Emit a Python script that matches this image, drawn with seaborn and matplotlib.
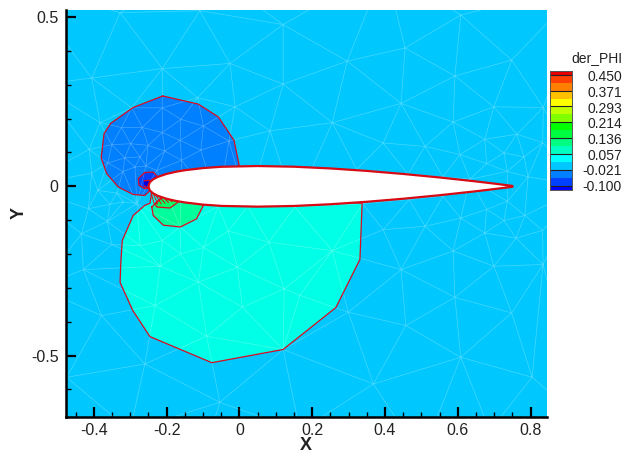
import numpy as np
import matplotlib
matplotlib.use("Agg")
import matplotlib.pyplot as plt
import matplotlib.tri as mtri
from matplotlib.ticker import MultipleLocator
import seaborn as sns

# airfoil section (chord fractions and half thickness)
chord = [0, .0025, .005, .0125, .025, .05, .075, .1, .15, .2, .3, .4, .5, .6, .7, .8, .9, .95, 1]
half_thick = [0, .0095, .0135, .0205, .0278, .0368, .043, .0476, .054, .0578, .06, .058, .0529,
              .0456, .0366, .0262, .0145, .0081, .0013]

# contour regions
blue_x = [-.211, -.292, -.354, -.372, -.380, -.365, -.333, -.292, -.260, -.246, .001, -.015, -.058, -.113, -.211]
blue_y = [.267, .233, .186, .156, .084, .038, -.002, -.024, -.027, -.012, .053, .136, .205, .243, .267]
dark_x = [-.260, -.237, -.223, -.232, -.260, -.276, -.278, -.260]
dark_y = [.041, .042, .026, -.002, -.007, .003, .023, .041]
navy_x = [-.262, -.248, -.240, -.250, -.262]
navy_y = [.016, .018, .004, -.006, .002]
cyan_x = [-.240, -.246, -.260, -.292, -.322, -.326, -.328, -.293, -.246, -.076, .120, .265, .331, .337, 0, -.17, -.240]
cyan_y = [-.012, -.050, -.056, -.086, -.160, -.225, -.284, -.367, -.444, -.521, -.482, -.358, -.216, -.050, -.027, -.02, -.012]
green_x = [-.241, -.237, -.209, -.162, -.118, -.099, -.2, -.241]
green_y = [-.061, -.086, -.115, -.120, -.096, -.056, -.02, -.061]
lime_x = [-.232, -.227, -.191, -.168, -.2, -.232]
lime_y = [-.051, -.061, -.064, -.046, -.02, -.051]

# contour lines bunched under the leading edge
fan_x0 = [-.245, -.24, -.235, -.23, -.222, -.215, -.205]
fan_y0 = [-.01, -.013, -.016, -.018, -.02, -.022, -.025]
fan_x1 = [-.235, -.225, -.215, -.205, -.195, -.185, -.172]
fan_y1 = [-.05, -.052, -.052, -.05, -.048, -.046, -.044]

# mesh nodes
mesh_x = [-.328, -.109, .120, -.212, -.026, -.406, .120, -.115, -.012, .084, -.383, -.413, -.406,
          -.296, -.212, -.161, -.099, -.324, -.267, -.212, -.163, -.351, -.299, -.251, -.205, -.106, -.029,
          -.362, -.315, -.273, -.257, -.159, -.320, -.287, -.227,
          .608, .455, .296, .748, .592, .444, .699, .835, .255, .587, .395, .510, .674, .762, .833, .606,
          .727, .782, .679, .736, .793, .322, .463, .559, .633,
          .255, .395, .510, .608, .674, .760, .727, .679, .736, .784, .833, .587, .444, .699, .834, .592,
          .299, .748, .457, .608, .368, .804, .338, .466, .559,
          .166, .688, -.301,
          -.415, -.363, -.434, -.351, -.429, -.379, -.260, -.054, -.475,
          -.273, -.212, -.162, -.099, -.031, .081, -.218, -.113, -.006, .123, -.232, .008, -.090, .120,
          -.163, -.059, .023, .152, .166,
          -.389, -.337, -.319, -.356, -.282,
          -.6, -.1, .4, .95, .95, .95, .5, -.1, -.6, -.6, -.55, -.55]
mesh_y = [.513, .519, .478, .348, .363, .320, .302, .262, .235, .164, .188, .109, .039,
          .232, .232, .198, .178, .174, .174, .159, .136, .123, .126, .121, .104, .107, .134,
          .069, .084, .087, .060, .077, .044, .057, .047,
          .506, .409, .370, .373, .326, .245, .235, .233, .188, .190, .128, .118, .139, .154, .129, .094,
          .099, .087, .067, .044, .028, .050, .036, .028, .021,
          -.190, -.128, -.118, -.094, -.138, -.153, -.101, -.068, -.044, -.086, -.130, -.191, -.246, -.236,
          -.231, -.328, -.372, -.374, -.411, -.505, -.584, -.564, -.051, -.039, -.029,
          -.722, -.722, -.722,
          -.066, -.104, -.140, -.172, -.246, -.382, -.525, -.638, -.564,
          -.175, -.160, -.199, -.181, -.132, -.165, -.236, -.283, -.239, -.303, -.352, -.357, -.443, -.482,
          -.120, -.059, -.059, -.061, -.322,
          -.012, -.020, -.046, -.053, -.051,
          .6, .65, .65, .6, 0, -.7, -.8, -.8, -.8, 0, .3, -.3]

# legend bands, bottom to top
legend_colors = ["#0000ff", "#0040ff", "#0080ff", "#00c8ff", "#00ffff", "#00ffc0", "#00ff80", "#00ff40",
                 "#00ff00", "#80ff00", "#c0ff00", "#ffff00", "#ffc000", "#ff8000", "#ff4000", "#e80000"]
legend_labels = ["-0.100", "-0.021", "0.057", "0.136", "0.214", "0.293", "0.371", "0.450"]

sns.set_style("ticks")
plt.rcParams["font.family"] = ["Liberation Sans", "DejaVu Sans"]
plt.rcParams["axes.unicode_minus"] = False

fig = plt.figure(figsize=(6.29, 4.61), dpi=100)
ax = fig.add_axes([65.5 / 629, 1 - 416.5 / 461, 481.5 / 629, 406.5 / 461])
ax.set_facecolor("#00c8ff")

ax.fill(cyan_x, cyan_y, color="#00ffe6", lw=0, zorder=1)
ax.fill(green_x, green_y, color="#00ff9c", lw=0, zorder=1)
ax.fill(lime_x, lime_y, color="#00ff60", lw=0, zorder=1)
ax.fill(blue_x, blue_y, color="#0080ff", lw=0, zorder=1)
ax.fill(dark_x, dark_y, color="#0040ff", lw=0, zorder=1)
ax.fill(navy_x, navy_y, color="#0000e0", lw=0, zorder=1)

tri = mtri.Triangulation(mesh_x, mesh_y)
ax.triplot(tri, color="white", lw=0.5, alpha=0.28, zorder=2)

red = "#dc0a20"
for xs, ys in [(blue_x, blue_y), (dark_x, dark_y), (navy_x, navy_y), (cyan_x, cyan_y),
               (green_x, green_y), (lime_x, lime_y)]:
    sns.lineplot(x=xs, y=ys, sort=False, estimator=None, color=red, lw=0.9, ax=ax, zorder=3)
for i in range(len(fan_x0)):
    sns.lineplot(x=[fan_x0[i], fan_x1[i]], y=[fan_y0[i], fan_y1[i]], sort=False, estimator=None,
                 color=red, lw=0.7, ax=ax, zorder=3)

# section runs from -0.25 to 0.75
foil_x = np.array(chord) - 0.25
foil_y = np.array(half_thick)
outline_x = np.r_[foil_x[::-1], foil_x[1:]]
outline_y = np.r_[foil_y[::-1], -foil_y[1:]]
ax.fill(outline_x, outline_y, color="white", lw=0, zorder=4)
sns.lineplot(x=outline_x, y=outline_y, sort=False, estimator=None, color="#d80a14", lw=1.6, ax=ax, zorder=5)

ax.set_xlim(-0.478, 0.845)
ax.set_ylim(-0.680, 0.521)
ax.set_xticks([-0.4, -0.2, 0, 0.2, 0.4, 0.6, 0.8])
ax.set_xticklabels(["-0.4", "-0.2", "0", "0.2", "0.4", "0.6", "0.8"])
ax.set_yticks([-0.5, 0, 0.5])
ax.set_yticklabels(["-0.5", "0", "0.5"])
ax.xaxis.set_minor_locator(MultipleLocator(0.05))
ax.yaxis.set_minor_locator(MultipleLocator(0.1))
ax.tick_params(which="major", direction="in", length=7.5, width=1.6, color="black", labelsize=11.5,
               labelcolor="#222222", pad=5, zorder=6)
ax.tick_params(which="minor", direction="in", length=3.8, width=1.0, color="black")
for s in ["top", "right"]:
    ax.spines[s].set_visible(False)
for s in ["left", "bottom"]:
    ax.spines[s].set_linewidth(1.8)
    ax.spines[s].set_color("black")
    ax.spines[s].set_zorder(7)
ax.set_xlabel("X", fontsize=13, fontweight="bold", color="#222222", labelpad=-1)
ax.set_ylabel("Y", fontsize=13, fontweight="bold", color="#222222", labelpad=2)

# legend
level_step = 0.55 / 14
edges = np.r_[-0.1 - 0.5 * level_step, -0.1 + level_step * np.arange(15), 0.45 + 0.5 * level_step]
lax = fig.add_axes([550 / 629, 1 - 190 / 461, 21.5 / 629, 119.3 / 461])
for i, c in enumerate(legend_colors):
    lax.axhspan(edges[i], edges[i + 1], color=c, lw=0)
for lev in -0.1 + 2 * level_step * np.arange(8):
    lax.axhline(lev, color="#222222", lw=0.8)
lax.set_ylim(edges[0], edges[-1])
lax.set_xticks([])
lax.set_yticks([])
for s in lax.spines.values():
    s.set_linewidth(0.7)
    s.set_color("#555555")
for i, lab in enumerate(legend_labels):
    fig.text(622 / 629, 1 - (187 - i * 15.65) / 461, lab, ha="right", va="center", fontsize=10, color="#222222")
fig.text(622 / 629, 1 - 58 / 461, "der_PHI", ha="right", va="center", fontsize=10, color="#222222")

fig.savefig("out.png", dpi=100)
